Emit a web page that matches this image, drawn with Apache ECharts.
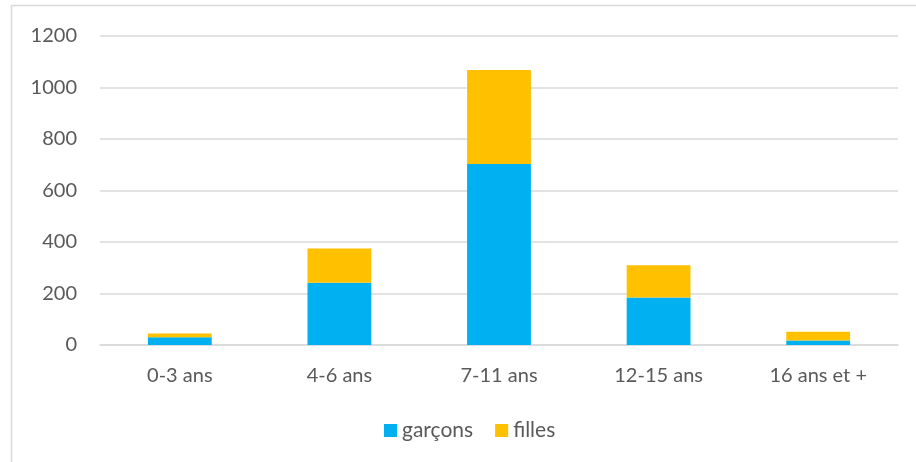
<!DOCTYPE html>
<html>
<head>
<meta charset="utf-8">
<script src="https://cdn.jsdelivr.net/npm/echarts@6/dist/echarts.min.js"></script>
<style>
html,body{margin:0;padding:0;background:#fff;}
#c{width:916px;height:462px;}
</style>
</head>
<body>
<div id="c"></div>
<script>
const categories = ['0-3 ans', '4-6 ans', '7-11 ans', '12-15 ans', '16 ans et +'];
const garcons = [30, 242, 703, 184, 17];
const filles = [15, 133, 365, 126, 34];
const yTicks = [0, 200, 400, 600, 800, 1000, 1200];

const chart = echarts.init(document.getElementById('c'));
const font = 'Lato, "Open Sans", sans-serif';
chart.setOption({
  animation: false,
  textStyle: { fontFamily: font },
  graphic: [{
    type: 'polyline',
    shape: { points: [[11.5, 470], [11.5, 5.5], [920, 5.5]] },
    style: { stroke: '#d9d9d9', lineWidth: 1.5, fill: null },
    silent: true
  }],
  grid: { left: 100, right: 18, top: 36, bottom: 117, containLabel: false },
  legend: {
    data: ['garçons', 'filles'],
    top: 415,
    left: 379,
    itemWidth: 13,
    itemHeight: 13,
    itemGap: 22,
    icon: 'rect',
    textStyle: { color: '#595959', fontSize: 21, fontFamily: font }
  },
  xAxis: {
    type: 'category',
    data: categories,
    axisLine: { lineStyle: { color: '#d9d9d9', width: 1.5 } },
    axisTick: { show: false },
    axisLabel: { color: '#595959', fontSize: 20, margin: 21, fontFamily: font }
  },
  yAxis: {
    type: 'value',
    min: yTicks[0],
    max: yTicks[yTicks.length - 1],
    interval: 200,
    axisLine: { show: false },
    axisTick: { show: false },
    axisLabel: { color: '#595959', fontSize: 20, margin: 23, fontFamily: font,
      formatter: v => String(v) },
    splitLine: { lineStyle: { color: '#d9d9d9', width: 1.5 } }
  },
  series: [
    { name: 'garçons', type: 'bar', stack: 't', data: garcons, barWidth: '40%',
      itemStyle: { color: '#00B0F0' } },
    { name: 'filles', type: 'bar', stack: 't', data: filles, barWidth: '40%',
      itemStyle: { color: '#FFC000' } }
  ]
});
</script>
</body>
</html>
